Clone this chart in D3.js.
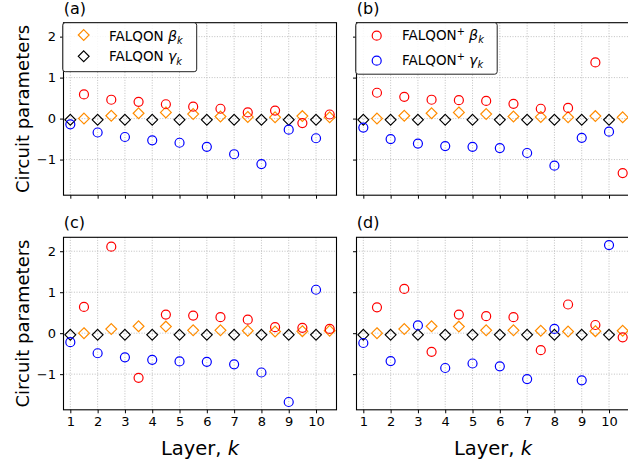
<!DOCTYPE html>
<html>
<head>
<meta charset="utf-8">
<script src="https://cdn.jsdelivr.net/npm/d3@7"></script>
<style>
  html, body { margin: 0; padding: 0; background: #fff; }
  svg { display: block; font-family: "DejaVu Sans", sans-serif; }
</style>
</head>
<body>
<svg id="chart" width="628" height="466"></svg>
<script>
// Layers and tick labels
const layers = [1, 2, 3, 4, 5, 6, 7, 8, 9, 10];
const yTicks = [-1, 0, 1, 2];

// FALQON angles (top row problem instance)
const falqonBetaTop  = [0.00, 0.07, 0.13, 0.15, 0.11, 0.05, 0.04, 0.03, 0.06, 0.03];
const falqonGammaTop = [-0.03, -0.03, -0.03, -0.03, -0.03, -0.03, -0.03, -0.03, -0.03, -0.03];
// FALQON angles (bottom row problem instance)
const falqonBetaBottom  = [0.00, 0.10, 0.17, 0.16, 0.07, 0.07, 0.06, 0.04, 0.05, 0.06];
const falqonGammaBottom = [-0.04, -0.04, -0.04, -0.04, -0.04, -0.04, -0.04, -0.04, -0.04, -0.04];

// FALQON+ angles, one pair per panel
const plusBetaA  = [0.59, 0.46, 0.41, 0.35, 0.29, 0.24, 0.15, 0.195, -0.11, 0.10];
const plusGammaA = [-0.14, -0.34, -0.45, -0.53, -0.59, -0.69, -0.87, -1.11, -0.27, -0.48];
const plusBetaB  = [0.63, 0.53, 0.46, 0.45, 0.43, 0.36, 0.24, 0.26, 1.37, -1.33];
const plusGammaB = [-0.22, -0.50, -0.61, -0.67, -0.69, -0.72, -0.84, -1.15, -0.47, -0.32];
const plusBetaC  = [0.64, 2.11, -1.09, 0.455, 0.43, 0.39, 0.33, 0.146, 0.13, 0.105];
const plusGammaC = [-0.22, -0.49, -0.59, -0.65, -0.69, -0.70, -0.76, -0.96, -1.68, 1.06];
const plusBetaD  = [0.63, 1.08, -0.455, 0.455, 0.415, 0.39, -0.415, 0.70, 0.20, -0.10];
const plusGammaD = [-0.24, -0.68, 0.19, -0.85, -0.74, -0.81, -1.12, 0.105, -1.15, 2.15];

const COLORS = { fBeta: "#ff8c00", fGamma: "#000000", pBeta: "#ff0000", pGamma: "#0000ff" };

const panels = [
  { label: "(a)", col: 0, row: 0, fb: falqonBetaTop, fg: falqonGammaTop, pb: plusBetaA, pg: plusGammaA, legend: "falqon" },
  { label: "(b)", col: 1, row: 0, fb: falqonBetaTop, fg: falqonGammaTop, pb: plusBetaB, pg: plusGammaB, legend: "plus" },
  { label: "(c)", col: 0, row: 1, fb: falqonBetaBottom, fg: falqonGammaBottom, pb: plusBetaC, pg: plusGammaC },
  { label: "(d)", col: 1, row: 1, fb: falqonBetaBottom, fg: falqonGammaBottom, pb: plusBetaD, pg: plusGammaD }
];

const colLeft = [63.5, 356.5];
const rowTop = [22.7, 237.3];
const pw = 273, ph = 172.5;

const svg = d3.select("#chart");

function diamond(sel, size) {
  return sel.attr("d", `M0,${-size}L${size},0L0,${size}L${-size},0Z`);
}

// Math-style label: name, optional superscript, italic greek letter with italic subscript k
function mathLabel(textSel, name, sup, greek, fs) {
  textSel.append("tspan").text(name);
  if (sup) {
    textSel.append("tspan").attr("dy", -fs * 0.4).attr("font-size", fs * 0.72).text(sup);
    textSel.append("tspan").attr("dy", fs * 0.4).text("\u00a0");
  } else {
    textSel.append("tspan").text("\u00a0");
  }
  textSel.append("tspan").attr("font-style", "italic").attr("font-size", fs * 1.05).text(greek);
  textSel.append("tspan").attr("dy", fs * 0.24).attr("font-size", fs * 0.72).attr("font-style", "italic").text("k");
}

panels.forEach(p => {
  const x0 = colLeft[p.col], y0 = rowTop[p.row];
  const x = d3.scaleLinear().domain([0.75, 10.75]).range([x0, x0 + pw]);
  const y = d3.scaleLinear().domain([-1.87, 2.34]).range([y0 + ph, y0]);
  const g = svg.append("g");
  const clipId = "clip" + p.col + p.row;
  svg.append("clipPath").attr("id", clipId).append("rect")
    .attr("x", x0).attr("y", y0).attr("width", pw).attr("height", ph);

  // grid
  const grid = g.append("g").attr("stroke", "#b0b0b0").attr("stroke-width", 0.8).attr("stroke-dasharray", "1,1.6");
  layers.forEach(k => grid.append("line").attr("x1", x(k)).attr("x2", x(k)).attr("y1", y0).attr("y2", y0 + ph));
  yTicks.forEach(v => grid.append("line").attr("x1", x0).attr("x2", x0 + pw).attr("y1", y(v)).attr("y2", y(v)));

  // axes
  const xAxis = d3.axisBottom(x).tickValues(layers).tickSizeInner(3.5).tickSizeOuter(0).tickPadding(3.5)
    .tickFormat(p.row === 1 ? d3.format("d") : () => "");
  const yAxis = d3.axisLeft(y).tickValues(yTicks).tickSizeInner(3.5).tickSizeOuter(0).tickPadding(4)
    .tickFormat(p.col === 0 ? (d => d < 0 ? "\u2212" + Math.abs(d) : String(d)) : () => "");
  const gx = g.append("g").attr("transform", `translate(0,${y0 + ph})`).call(xAxis);
  const gy = g.append("g").attr("transform", `translate(${x0},0)`).call(yAxis);
  [gx, gy].forEach(ax => {
    ax.select(".domain").remove();
    ax.selectAll(".tick line").attr("stroke", "#000").attr("stroke-width", 1);
    ax.selectAll(".tick text").attr("font-size", 13).attr("fill", "#000").attr("font-family", "DejaVu Sans");
  });

  // marks
  const marks = g.append("g").attr("clip-path", `url(#${clipId})`);
  marks.selectAll(".fb").data(p.fb).join("path")
    .call(diamond, 5.4)
    .attr("transform", (d, i) => `translate(${x(layers[i] + 0.5)},${y(d)})`)
    .attr("fill", "none").attr("stroke", COLORS.fBeta).attr("stroke-width", 1.2);
  marks.selectAll(".fg").data(p.fg).join("path")
    .call(diamond, 5.4)
    .attr("transform", (d, i) => `translate(${x(layers[i])},${y(d)})`)
    .attr("fill", "none").attr("stroke", COLORS.fGamma).attr("stroke-width", 1.2);
  marks.selectAll(".pb").data(p.pb).join("circle")
    .attr("cx", (d, i) => x(layers[i] + 0.5)).attr("cy", d => y(d)).attr("r", 4.5)
    .attr("fill", "none").attr("stroke", COLORS.pBeta).attr("stroke-width", 1.2);
  marks.selectAll(".pg").data(p.pg).join("circle")
    .attr("cx", (d, i) => x(layers[i])).attr("cy", d => y(d)).attr("r", 4.5)
    .attr("fill", "none").attr("stroke", COLORS.pGamma).attr("stroke-width", 1.2);

  // frame
  g.append("rect").attr("x", x0).attr("y", y0).attr("width", pw).attr("height", ph)
    .attr("fill", "none").attr("stroke", "#000").attr("stroke-width", 1.1);

  // panel label
  svg.append("text").attr("x", x0 + 0.3).attr("y", y0 - 9.2).attr("font-size", 16).text(p.label);

  // legends
  if (p.legend) {
    const plus = p.legend === "plus";
    const lg = svg.append("g");
    const lw = plus ? 141.5 : 134, lh = plus ? 51.5 : 49;
    lg.append("rect").attr("x", x0 - 0.8).attr("y", y0).attr("width", lw).attr("height", lh)
      .attr("rx", 2.5).attr("fill", "#fff").attr("fill-opacity", 0.85)
      .attr("stroke", "#222").attr("stroke-width", 1);
    const rows = plus
      ? [{ c: COLORS.pBeta, g: "\u03b2" }, { c: COLORS.pGamma, g: "\u03b3" }]
      : [{ c: COLORS.fBeta, g: "\u03b2" }, { c: COLORS.fGamma, g: "\u03b3" }];
    rows.forEach((r, i) => {
      const cy = y0 + (plus ? 13 + i * 25 : 12.3 + i * 21.3);
      const base = y0 + (plus ? 17.5 + i * 25 : 17.9 + i * 20.8);
      const mx = x0 + 20.2;
      if (plus) {
        lg.append("circle").attr("cx", mx).attr("cy", cy).attr("r", 4.5)
          .attr("fill", "none").attr("stroke", r.c).attr("stroke-width", 1.2);
      } else {
        lg.append("path").call(diamond, 5.4).attr("transform", `translate(${mx},${cy})`)
          .attr("fill", "none").attr("stroke", r.c).attr("stroke-width", 1.2);
      }
      const t = lg.append("text").attr("x", x0 + 45.5).attr("y", base).attr("font-size", 13.5);
      mathLabel(t, "FALQON", plus ? "+" : null, r.g, 13.5);
    });
  }

  // x axis title
  if (p.row === 1) {
    const t = svg.append("text").attr("x", x0 + pw / 2).attr("y", 454.5).attr("text-anchor", "middle").attr("font-size", 19.5);
    t.append("tspan").text("Layer, ");
    t.append("tspan").attr("font-style", "italic").text("k");
  }
  // y axis title
  if (p.col === 0) {
    svg.append("text").attr("transform", `translate(28.5,${y0 + ph / 2}) rotate(-90)`)
      .attr("text-anchor", "middle").attr("font-size", 18).text("Circuit parameters");
  }
});
</script>
</body>
</html>
